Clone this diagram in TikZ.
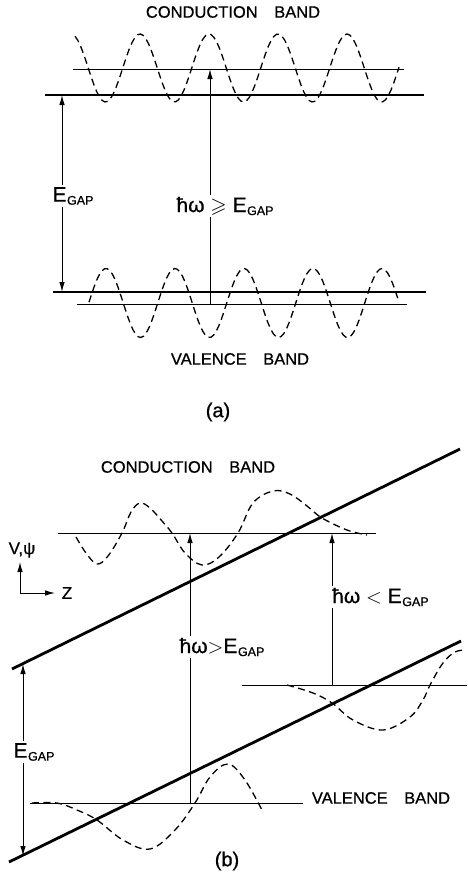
\documentclass[tikz,border=0pt]{standalone}
\usepackage{amssymb}
\usepackage{fontspec}
\setmainfont{Liberation Sans}[FakeBold=0.7]
\usepackage{tikz}
\usetikzlibrary{arrows.meta}

\newcommand{\Egap}{E\kern0.5pt\raisebox{-3pt}{\fontsize{12.5}{12}\selectfont GAP}}

\begin{document}
\begin{tikzpicture}[
x=1pt, y=-1pt,
bandedge/.style={line width=2.8pt},
levelline/.style={line width=0.8pt},
psiwave/.style={line width=1.3pt, dash pattern=on 7pt off 4.5pt},
arr/.style={line width=1pt, -{Latex[length=10pt, width=5.5pt]}},
dblarr/.style={line width=1pt, {Latex[length=10pt, width=5.5pt]}-{Latex[length=10pt, width=5.5pt]}},
bandname/.style={font=\fontsize{16.5}{18}\selectfont, inner sep=0pt},
lbl/.style={font=\fontsize{21}{24}\selectfont, fill=white, inner sep=2pt}
]
\useasboundingbox (0,0) rectangle (467,875);

% (a) flat bands
\node[bandname] (cbA) at (233,12) {CONDUCTION\quad BAND};
\draw[bandedge] (45,95) -- (424,95);
\draw[levelline] (73,69) -- (404,69);
\draw[psiwave] plot[domain=75:399, samples=120] (\x, {68-34*cos((\x-140)/69*360)});
\draw[bandedge] (53,292) -- (426,292);
\draw[levelline] (77,304) -- (407,304);
\draw[psiwave] plot[domain=89:398, samples=120] (\x, {303-34.5*cos((\x-106)/69*360)});

\coordinate (gapAtop) at (62,95);
\coordinate (gapAbot) at (62,292);
\draw[dblarr] (gapAtop) -- (gapAbot);
\node[lbl] (gapA) at (73,196) {\Egap};

\coordinate (photA0) at (210,304);
\coordinate (photA1) at (210,69);
\draw[arr] (photA0) -- (photA1);
\node[lbl] (photA) at (225,206) {ħω $\geqslant$ \Egap};

\node[bandname] (vbA) at (240,359) {VALENCE\quad BAND};
\node[font=\fontsize{20}{22}\selectfont] (capA) at (218,412) {(a)};

% (b) tilted bands
\node[bandname] (cbB) at (188,467) {CONDUCTION\quad BAND};
\draw[bandedge] (12,669) -- (460,449);
\draw[bandedge] (9,862) -- (461,641);
\draw[levelline] (58,533) -- (376,533);
\draw[levelline] (242,685) -- (467,685);
\draw[levelline] (30,803) -- (303,803);

\draw[psiwave] plot[smooth, tension=0.6] coordinates {(76,537) (86,553) (97,564) (108,556) (122,533) (131,512) (140,503) (150,508) (162,521) (172,533) (185,553) (202,565) (219,557) (238,533) (253,503) (273,491) (290,494) (307,506) (322,518) (347,530) (367,535)};
\draw[psiwave] plot[smooth, tension=0.6] coordinates {(287,685) (313,693) (332,703) (353,720) (383,730) (410,717) (423,700) (430,685) (443,663) (455,652) (466,650)};
\draw[psiwave] plot[smooth, tension=0.6] coordinates {(32,803) (57,803) (77,810) (97,820) (123,840) (150,849) (175,830) (195,803) (210,777) (228,764) (245,780) (263,812)};

\coordinate (gapBtop) at (23,664);
\coordinate (gapBbot) at (23,856);
\draw[dblarr] (gapBtop) -- (gapBbot);
\node[lbl] (gapB) at (34,752) {\Egap};

\coordinate (photB0) at (190,803);
\coordinate (photB1) at (190,533);
\draw[arr] (photB0) -- (photB1);
\node[lbl] (photB) at (222,647) {ħω$>$\Egap};

\coordinate (photC0) at (332,685);
\coordinate (photC1) at (332,533);
\draw[arr] (photC0) -- (photC1);
\node[lbl, anchor=west] (photC) at (330,597) {ħω $<$ \Egap};

\coordinate (ax0) at (20,593);
\coordinate (axV) at (20,562);
\coordinate (axZ) at (55,593);
\draw[arr] (ax0) -- (axV);
\draw[arr] (ax0) -- (axZ);
\node[font=\fontsize{17}{18}\selectfont] (vpsi) at (22,550) {V,ψ};
\node[font=\fontsize{17}{18}\selectfont] (zlab) at (67,593) {Z};

\node[bandname] (vbB) at (381,798) {VALENCE\quad BAND};
\node[font=\fontsize{20}{22}\selectfont] (capB) at (227,861) {(b)};
\end{tikzpicture}
\end{document}
